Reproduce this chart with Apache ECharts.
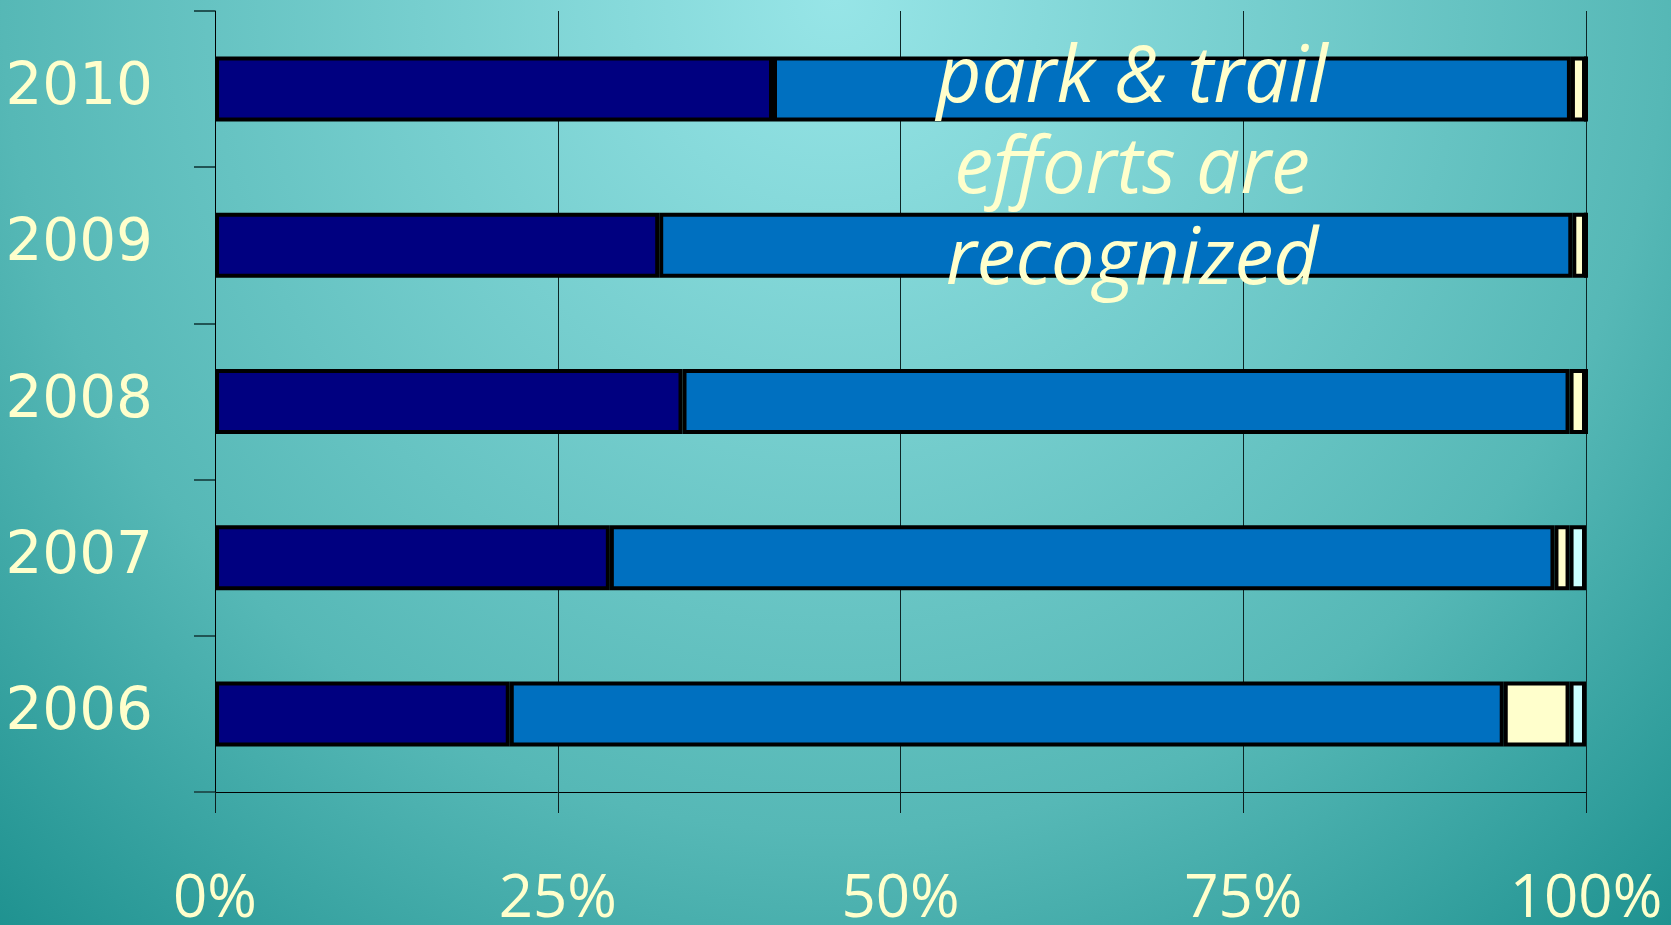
<!DOCTYPE html>
<html>
<head>
<meta charset="utf-8">
<script src="https://cdn.jsdelivr.net/npm/echarts@6/dist/echarts.min.js"></script>
<style>
  html, body { margin: 0; padding: 0; }
  #chart { width: 1671px; height: 925px; }
</style>
</head>
<body>
<div id="chart"></div>
<script>
const years = ['2006', '2007', '2008', '2009', '2010'];
const darkShare = [21.5, 28.8, 34.1, 32.4, 40.7];
const blueShare = [72.5, 68.9, 64.7, 66.6, 58.2];
const creamShare = [4.8, 1.1, 1.2, 1.0, 1.1];
const cyanShare = [1.2, 1.2, 0, 0, 0];
const xTicks = [0, 25, 50, 75, 100];
const note = ['park & trail', 'efforts are', 'recognized'];

const chart = echarts.init(document.getElementById('chart'));

const cream = '#ffffcc';

function stackSeries(name, data, color) {
  return {
    name: name,
    type: 'bar',
    stack: 'total',
    barWidth: 65,
    data: data,
    itemStyle: { color: color, borderColor: '#000', borderWidth: 4 }
  };
}

chart.setOption({
  backgroundColor: {
    type: 'radial', x: 835, y: 0, r: 1300, global: true,
    colorStops: [
      { offset: 0, color: '#97e5e7' },
      { offset: 0.64, color: '#56b8b6' },
      { offset: 0.96, color: '#1f9290' },
      { offset: 1, color: '#1c8e8c' }
    ]
  },
  animation: false,
  grid: { left: 215, right: 85, top: 11, bottom: 133, outerBoundsMode: 'none', containLabel: false },
  xAxis: {
    type: 'value',
    min: 0,
    max: 100,
    interval: 25,
    axisLine: { show: true, lineStyle: { color: '#000', width: 1 } },
    axisTick: { show: true, length: 21, lineStyle: { color: '#0d1f1f', width: 1 } },
    splitLine: { show: true, lineStyle: { color: '#0d2626', width: 1 } },
    axisLabel: {
      formatter: '{value}%',
      color: cream,
      fontFamily: "'Comic Sans MS', 'Open Sans', sans-serif",
      fontSize: 60,
      margin: 78,
      customValues: xTicks
    }
  },
  yAxis: {
    type: 'category',
    data: years,
    axisLine: { show: true, lineStyle: { color: '#000', width: 1 } },
    axisTick: { show: true, length: 21, lineStyle: { color: '#215454', width: 2 } },
    axisLabel: {
      color: cream,
      fontFamily: "'DejaVu Sans', sans-serif",
      fontSize: 58,
      margin: 62
    }
  },
  series: [
    stackSeries('a', darkShare, '#000080'),
    stackSeries('b', blueShare, '#0070c0'),
    stackSeries('c', creamShare, cream),
    stackSeries('d', cyanShare, '#ccffff')
  ],
  graphic: note.map(function (line, i) {
    return {
      type: 'text',
      x: 1132,
      y: 80 + i * 91,
      z: 100,
      style: {
        text: line,
        fill: cream,
        font: "italic 78px 'Comic Sans MS', 'Open Sans', sans-serif",
        align: 'center',
        verticalAlign: 'middle'
      }
    };
  })
});
</script>
</body>
</html>
